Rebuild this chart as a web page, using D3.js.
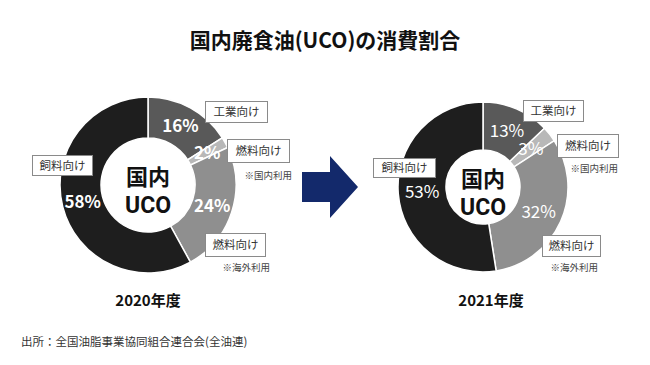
<!DOCTYPE html>
<html>
<head>
<meta charset="utf-8">
<script src="https://cdn.jsdelivr.net/npm/d3@7"></script>
<style>
  body { margin: 0; background: #fff; }
  svg text { font-family: "Noto Sans CJK JP", "Noto Sans", sans-serif; }
</style>
</head>
<body>
<div id="chart"></div>
<script>
// data
var categories = ["工業向け", "燃料向け", "燃料向け", "飼料向け"];
var notes = ["", "※国内利用", "※海外利用", ""];
var years = ["2020年度", "2021年度"];
var values2020 = [16, 2, 24, 58];
var values2021 = [13, 3, 32, 53];

var colors = ["#595959", "#b8b8b8", "#8f8f8f", "#1e1e1e"];

var width = 650, height = 365;

var svg = d3.select("#chart").append("svg")
    .attr("width", width)
    .attr("height", height);

// title
svg.append("text")
    .attr("x", 325)
    .attr("y", 48)
    .attr("text-anchor", "middle")
    .attr("font-size", 21)
    .attr("font-weight", "bold")
    .attr("fill", "#111")
    .text("国内廃食油(UCO)の消費割合");

// one donut per year
var donuts = [
    { values: values2020, year: years[0], cx: 148, cy: 185, r: 88, ri: 47, bold: true, yearX: 148,
      boxes: [[205, 101, 62, 21], [227, 139, 62, 23], [205, 233, 60, 23], [32, 155, 60, 20]],
      notePos: [null, [292, 176], [270, 268], null] },
    { values: values2021, year: years[1], cx: 483, cy: 187, r: 85, ri: 37, bold: false, yearX: 491,
      boxes: [[523, 100, 60, 21], [557, 134, 61, 23], [542, 235, 58, 21], [373, 158, 62, 19]],
      notePos: [null, [618, 169], [598, 268], null] }
];

var pie = d3.pie().sort(null).value(function(d) { return d; });

donuts.forEach(function(dn) {
    var g = svg.append("g")
        .attr("transform", "translate(" + dn.cx + "," + dn.cy + ")");

    var arc = d3.arc().innerRadius(dn.ri).outerRadius(dn.r);
    var labelArc = d3.arc().innerRadius((dn.ri + dn.r) / 2).outerRadius((dn.ri + dn.r) / 2);

    var arcs = pie(dn.values);

    g.selectAll("path")
        .data(arcs)
        .enter().append("path")
        .attr("d", arc)
        .attr("fill", function(d, i) { return colors[i]; })
        .attr("stroke", "#fff")
        .attr("stroke-width", 1.5);

    g.selectAll("text.pct")
        .data(arcs)
        .enter().append("text")
        .attr("class", "pct")
        .attr("transform", function(d) {
            var c = labelArc.centroid(d);
            return "translate(" + c[0] + "," + c[1] + ")";
        })
        .attr("text-anchor", "middle")
        .attr("dy", "0.36em")
        .attr("font-size", 17)
        .attr("font-weight", dn.bold ? "bold" : "normal")
        .attr("fill", "#fff")
        .text(function(d) { return d.data + "%"; });

    // centre text
    g.append("text")
        .attr("y", 0)
        .attr("text-anchor", "middle")
        .attr("font-size", 22)
        .attr("font-weight", "bold")
        .attr("fill", "#111")
        .text("国内");
    g.append("text")
        .attr("y", 28)
        .attr("text-anchor", "middle")
        .attr("font-size", 23)
        .attr("font-weight", "bold")
        .attr("fill", "#111")
        .style("font-family", "Roboto, sans-serif")
        .text("UCO");

    // category boxes
    dn.boxes.forEach(function(b, i) {
        svg.append("rect")
            .attr("x", b[0] + 0.5)
            .attr("y", b[1] + 0.5)
            .attr("width", b[2])
            .attr("height", b[3])
            .attr("fill", "#fff")
            .attr("stroke", "#8a8a8a")
            .attr("stroke-width", 1);
        svg.append("text")
            .attr("x", b[0] + b[2] / 2 + 0.5)
            .attr("y", b[1] + b[3] / 2 + 0.5)
            .attr("dy", "0.36em")
            .attr("text-anchor", "middle")
            .attr("font-size", 11.5)
            .attr("fill", "#333")
            .text(categories[i]);
        if (dn.notePos[i]) {
            svg.append("text")
                .attr("x", dn.notePos[i][0])
                .attr("y", dn.notePos[i][1])
                .attr("dy", "0.36em")
                .attr("text-anchor", "end")
                .attr("font-size", 9.5)
                .attr("fill", "#444")
                .text(notes[i]);
        }
    });

    // year label
    svg.append("text")
        .attr("x", dn.yearX)
        .attr("y", 306)
        .attr("text-anchor", "middle")
        .attr("font-size", 15)
        .attr("font-weight", "bold")
        .attr("fill", "#111")
        .text(dn.year);
});

// arrow between the two donuts
svg.append("path")
    .attr("d", "M302,172 L330,172 L330,156 L358,187 L330,218 L330,202 L302,202 Z")
    .attr("fill", "#13296b");

// source
svg.append("text")
    .attr("x", 21)
    .attr("y", 346)
    .attr("font-size", 11.5)
    .attr("fill", "#333")
    .text("出所：全国油脂事業協同組合連合会(全油連)");
</script>
</body>
</html>
